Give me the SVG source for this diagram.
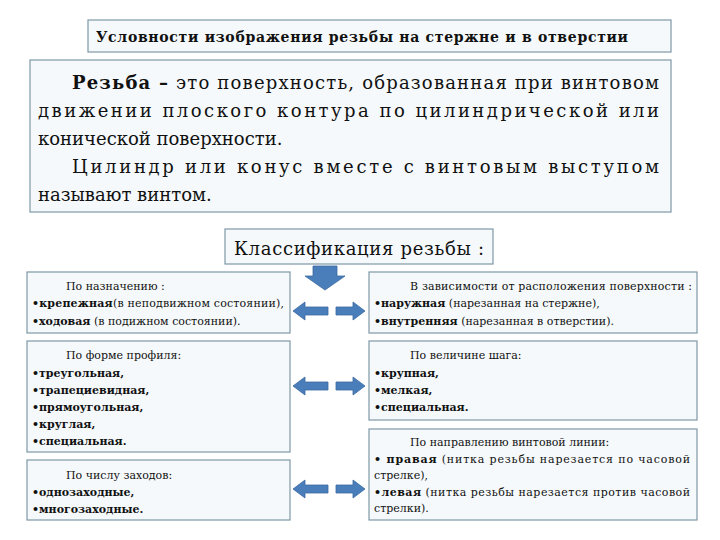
<svg xmlns="http://www.w3.org/2000/svg" width="720" height="540" viewBox="0 0 720 540" font-family="'DejaVu Serif', 'Liberation Serif', serif">
<style>
.b{fill:#f5f9fb;stroke:#7f98a6;stroke-width:1.2}
.t{fill:#111}
.s{font-size:11px}
.a{fill:#4a7ebb;stroke:#3b6aa0;stroke-width:0.8}
</style>
<rect width="720" height="540" fill="#fff"/>
<g id="title"><rect class="b" x="88" y="20" width="583" height="32"/>
<text class="t" x="96" y="42" font-size="14" font-weight="bold" textLength="532">Условности изображения резьбы на стержне и в отверстии</text></g>
<g id="def"><rect class="b" x="30" y="60" width="641" height="152"/>
<g class="t" font-size="18">
<text x="72" y="89" textLength="587"><tspan font-weight="bold">Резьба –</tspan> это поверхность, образованная при винтовом</text>
<text x="38" y="117" textLength="621">движении плоского контура по цилиндрической или</text>
<text x="38" y="145">конической поверхности.</text>
<text x="72" y="173" textLength="587">Цилиндр или конус вместе с винтовым выступом</text>
<text x="38" y="201">называют винтом.</text></g></g>
<g id="class"><rect class="b" x="225" y="229" width="268" height="35"/>
<text class="t" x="234" y="255" font-size="18" textLength="250">Классификация резьбы :</text></g>
<g id="n1"><rect class="b" x="27" y="272" width="263" height="61"/>
<g class="t s"><text x="66" y="290">По назначению :</text>
<text x="32" y="307" textLength="252"><tspan font-weight="bold">•крепежная</tspan>(в неподвижном состоянии),</text>
<text x="32" y="325"><tspan font-weight="bold">•ходовая</tspan> (в подижном состоянии).</text></g></g>
<g id="n2"><rect class="b" x="27" y="341" width="263" height="111"/>
<g class="t s"><text x="66" y="359">По форме профиля:</text>
<g font-weight="bold"><text x="32" y="377">•треугольная,</text><text x="32" y="394">•трапециевидная,</text><text x="32" y="411">•прямоугольная,</text><text x="32" y="428">•круглая,</text><text x="32" y="445">•специальная.</text></g></g></g>
<g id="n3"><rect class="b" x="27" y="460" width="263" height="60"/>
<g class="t s"><text x="66" y="479">По числу заходов:</text>
<g font-weight="bold"><text x="32" y="496">•однозаходные,</text><text x="32" y="513">•многозаходные.</text></g></g></g>
<g id="n4"><rect class="b" x="369" y="272" width="328" height="61"/>
<g class="t s"><text x="410" y="290" textLength="282">В зависимости от расположения поверхности :</text>
<text x="374" y="307"><tspan font-weight="bold">•наружная</tspan> (нарезанная на стержне),</text>
<text x="374" y="325"><tspan font-weight="bold">•внутренняя</tspan> (нарезанная в отверстии).</text></g></g>
<g id="n5"><rect class="b" x="369" y="341" width="328" height="79"/>
<g class="t s"><text x="410" y="359">По величине шага:</text>
<g font-weight="bold"><text x="374" y="377">•крупная,</text><text x="374" y="394">•мелкая,</text><text x="374" y="411">•специальная.</text></g></g></g>
<g id="n6"><rect class="b" x="369" y="429" width="328" height="91"/>
<g class="t s"><text x="410" y="446">По направлению винтовой линии:</text>
<text x="374" y="463" textLength="316"><tspan font-weight="bold">• правая</tspan> (нитка резьбы нарезается по часовой</text>
<text x="374" y="479">стрелке),</text>
<text x="374" y="496" textLength="316"><tspan font-weight="bold">•левая</tspan> (нитка резьбы нарезается против часовой</text>
<text x="374" y="512">стрелки).</text></g></g>
<g id="connectors">
<path class="a" d="M313 266H337V276H345L325 290L305 276H313Z"/>
<g id="ar"><path class="a" d="M293 311L305 302V307H328V315H305V320Z"/><path class="a" d="M365 311L353 302V307H336V315H353V320Z"/></g>
<use href="#ar" y="75"/>
<use href="#ar" y="178"/>
</g>
</svg>
